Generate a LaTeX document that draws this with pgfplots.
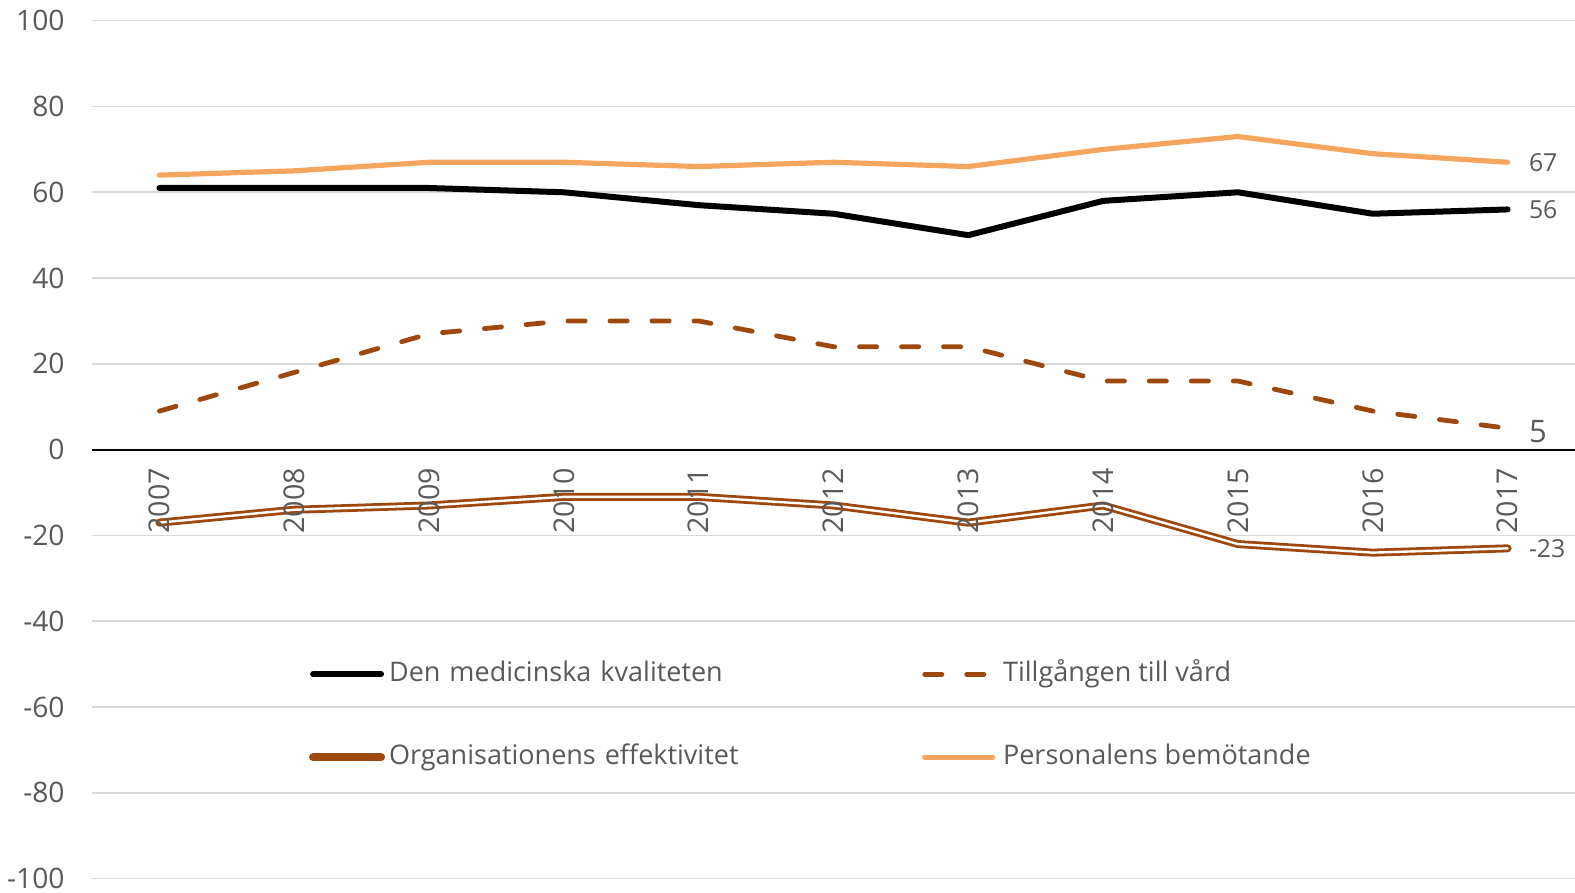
\documentclass[border=0pt]{standalone}
\usepackage{pgfplots}
\pgfplotsset{compat=1.18}
\usepackage{fontspec}
\setmainfont{Open Sans}
\definecolor{brownD}{HTML}{9E480E}
\definecolor{orangeL}{HTML}{F6A55F}
\definecolor{txt}{HTML}{595959}
\definecolor{gridc}{HTML}{D9D9D9}
\begin{document}
\begin{tikzpicture}
\begin{axis}[
  scale only axis, width=741.5pt, height=429pt,
  xmin=2006.5, xmax=2017.5, ymin=-100, ymax=100,
  axis x line*=middle, axis y line*=left,
  y axis line style={draw=none},
  x axis line style={black, line width=0.9pt},
  xtick={2007,2008,2009,2010,2011,2012,2013,2014,2015,2016,2017},
  xticklabels={},
  ytick={-100,-80,-60,-40,-20,0,20,40,60,80,100},
  major tick length=0pt,
  ymajorgrids, grid style={gridc, line width=0.8pt},
  /pgf/number format/assume math mode=true,
  /pgf/number format/1000 sep={},
  yticklabel style={anchor=east, inner sep=0pt, xshift=-13.5pt, font=\fontsize{14.1}{17}\selectfont, text=txt},
  legend columns=2,
  legend cell align=left,
  legend style={draw=none, fill=none, inner sep=0pt, outer sep=0pt,
    at={(axis description cs:0.1464,0.2535)}, anchor=north west,
    font=\fontsize{13.5}{16}\selectfont, text=txt,
    nodes={inner sep=0pt, text height=10pt, text depth=3pt},
    /tikz/column sep=2pt, /tikz/row sep=28.5pt,
    /tikz/column 2/.style={nodes={text width=264.5pt}}},
]
\addplot[black, line width=3pt, line join=round, line cap=round,
  legend image code/.code={\draw[black, line width=3pt, line cap=round] (0pt,0pt) -- (34pt,0pt);}]
  coordinates {(2007,61) (2008,61) (2009,61) (2010,60) (2011,57) (2012,55) (2013,50) (2014,58) (2015,60) (2016,55) (2017,56)};
\addlegendentry{Den medicinska kvaliteten}
\addplot[brownD, line width=2.4pt, line join=round, line cap=round, dash pattern=on 8.6pt off 12.4pt,
  legend image code/.code={\draw[brownD, line width=2.4pt, line cap=round, dash pattern=on 8.6pt off 12.4pt] (0pt,0pt) -- (36pt,0pt);}]
  coordinates {(2007,9) (2008,18) (2009,27) (2010,30) (2011,30) (2012,24) (2013,24) (2014,16) (2015,16) (2016,9) (2017,5)};
\addlegendentry{Tillgången till vård}
\addplot[brownD, line width=4pt, line join=round, line cap=round,
  legend image code/.code={\draw[brownD, line width=4pt, line cap=round] (0pt,0pt) -- (34pt,0pt);}]
  coordinates {(2007,-17) (2008,-14) (2009,-13) (2010,-11) (2011,-11) (2012,-13) (2013,-17) (2014,-13) (2015,-22) (2016,-24) (2017,-23)};
\addlegendentry{Organisationens effektivitet}
\addplot[white, line width=1.2pt, line join=round, line cap=round, forget plot]
  coordinates {(2007,-17) (2008,-14) (2009,-13) (2010,-11) (2011,-11) (2012,-13) (2013,-17) (2014,-13) (2015,-22) (2016,-24) (2017,-23)};
\addplot[orangeL, line width=2.6pt, line join=round, line cap=round,
  legend image code/.code={\draw[orangeL, line width=2.6pt, line cap=round] (0pt,0pt) -- (34pt,0pt);}]
  coordinates {(2007,64) (2008,65) (2009,67) (2010,67) (2011,66) (2012,67) (2013,66) (2014,70) (2015,73) (2016,69) (2017,67)};
\addlegendentry{Personalens bemötande}
\pgfplotsinvokeforeach{2007,2008,2009,2010,2011,2012,2013,2014,2015,2016,2017}{
  \node[rotate=90, anchor=east, inner sep=9pt, text=txt, font=\fontsize{14.3}{17}\selectfont] at (axis cs:#1,0) {#1};
}
\node[anchor=west, inner sep=0pt, xshift=10.5pt, text=txt, font=\fontsize{12.4}{15}\selectfont] at (axis cs:2017,67) {67};
\node[anchor=west, inner sep=0pt, xshift=10.5pt, text=txt, font=\fontsize{12.4}{15}\selectfont] at (axis cs:2017,56) {56};
\node[anchor=west, inner sep=0pt, xshift=10.5pt, yshift=-1.5pt, text=txt, font=\fontsize{15.5}{18}\selectfont] at (axis cs:2017,5) {5};
\node[anchor=west, inner sep=0pt, xshift=10.5pt, text=txt, font=\fontsize{12.4}{15}\selectfont] at (axis cs:2017,-23) {-23};
\end{axis}
\pgfresetboundingbox
\path ([xshift=-46pt,yshift=-7pt]current axis.south west) rectangle ([yshift=10.35pt]current axis.north east);
\end{tikzpicture}
\end{document}
